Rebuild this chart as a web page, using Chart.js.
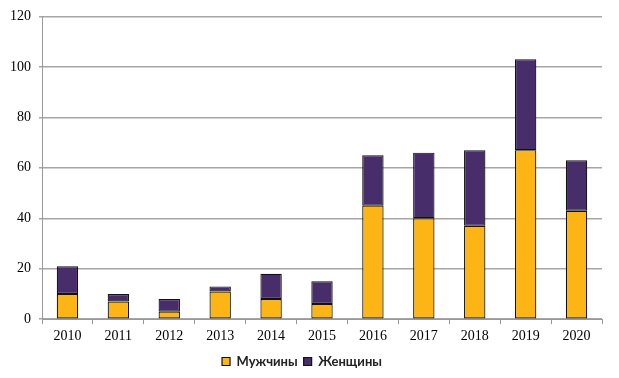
<!DOCTYPE html>
<html><head><meta charset="utf-8">
<script src="https://cdn.jsdelivr.net/npm/chart.js@4"></script>
<style>html,body{margin:0;padding:0;background:#fff}#w{width:619px;height:378px;position:relative}</style>
</head><body><div id="w"><canvas id="c"></canvas></div>
<script>
const categories = ['2010','2011','2012','2013','2014','2015','2016','2017','2018','2019','2020'];
const men =   [10, 7, 3, 11, 8, 6, 45, 40, 37, 67, 43];
const women = [11, 3, 5, 2, 10, 9, 20, 26, 30, 36, 20];
const yTicks = [0, 20, 40, 60, 80, 100, 120];

new Chart(document.getElementById('c'), {
  type: 'bar',
  data: {
    labels: categories,
    datasets: [
      {label: 'Мужчины', data: men, backgroundColor: '#FDB515', borderColor: '#111', borderWidth: 1.2, borderSkipped: false, barPercentage: 0.42, categoryPercentage: 1},
      {label: 'Женщины', data: women, backgroundColor: '#472D6A', borderColor: '#111', borderWidth: 1.2, borderSkipped: false, barPercentage: 0.42, categoryPercentage: 1}
    ]
  },
  options: {
    responsive: true, maintainAspectRatio: false, animation: false,
    layout: {padding: {left: 2, right: 17, top: 7, bottom: 0}},
    scales: {
      x: {
        stacked: true,
        grid: {display: true, drawOnChartArea: false, offset: true, tickLength: 5, color: '#999'},
        border: {color: '#999'},
        ticks: {color: '#000', font: {family: 'Liberation Serif', size: 14}, padding: 4}
      },
      y: {
        stacked: true, min: 0, max: 120,
        afterBuildTicks: s => { s.ticks = yTicks.map(v => ({value: v})); },
        grid: {color: '#a6a6a6', tickLength: 3, lineWidth: 1.5},
        border: {color: '#999'},
        ticks: {color: '#000', font: {family: 'Liberation Serif', size: 14}, padding: 8}
      }
    },
    plugins: {
      legend: {
        position: 'bottom',
        labels: {boxWidth: 8, boxHeight: 8, color: '#222', padding: 6, font: {family: 'Lato', size: 13, weight: 'bold'}}
      },
      tooltip: {enabled: false}
    }
  }
});
</script></body></html>
